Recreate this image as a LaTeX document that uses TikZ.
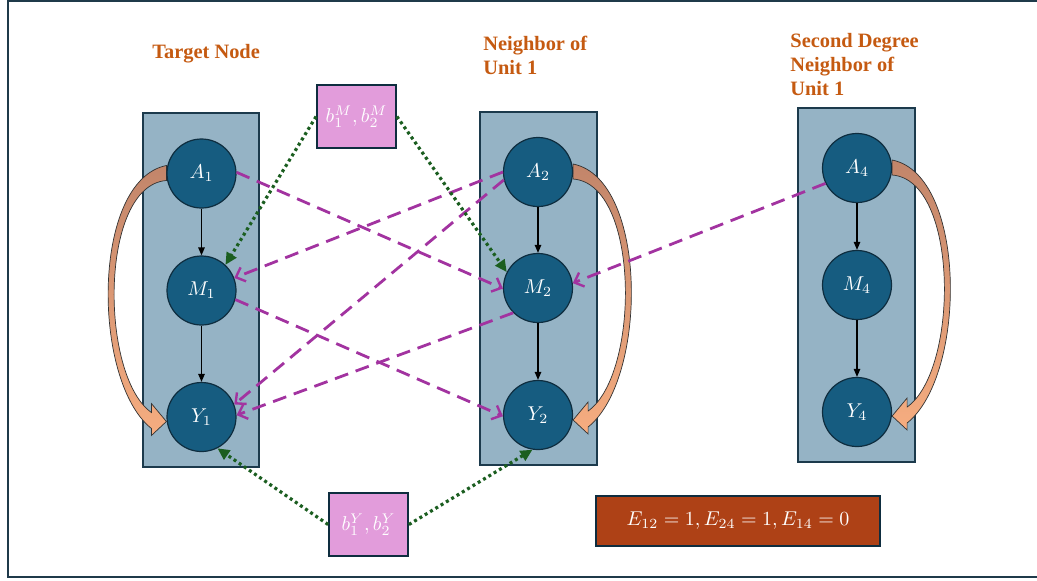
\documentclass[tikz,border=0pt]{standalone}
\usepackage{fontspec}
\newfontfamily\ttlfont{Liberation Serif}
\usetikzlibrary{arrows.meta}
\definecolor{frameC}{HTML}{1F3A4A}
\definecolor{colFill}{HTML}{95B3C5}
\definecolor{colEdge}{HTML}{1C3A4C}
\definecolor{varFill}{HTML}{165C80}
\definecolor{varEdge}{HTML}{0E2D3F}
\definecolor{ttlC}{HTML}{C55A11}
\definecolor{pinkC}{HTML}{E29CDB}
\definecolor{eC}{HTML}{AE4116}
\definecolor{magC}{HTML}{A233A0}
\definecolor{grnC}{HTML}{1B5E20}
\definecolor{fatTop}{HTML}{C2856A}
\definecolor{fatBot}{HTML}{F6AD80}
\pgfdeclarelayer{bg}
\pgfsetlayers{bg,main}
\tikzset{
  colbox/.style={draw=colEdge, line width=0.9pt, fill=colFill, inner sep=0pt},
  var/.style={circle, draw=varEdge, line width=0.6pt, fill=varFill, minimum size=34.5pt, inner sep=0pt, text=white, font=\fontsize{10}{12}\selectfont},
  bbox/.style={draw=varEdge, line width=0.9pt, fill=pinkC, minimum width=39.5pt, minimum height=31.5pt, inner sep=0pt, text=white, font=\fontsize{10}{12}\selectfont},
  ebox/.style={draw=varEdge, line width=0.9pt, fill=eC, minimum width=142pt, minimum height=25pt, inner sep=0pt, text=white, font=\fontsize{10}{12}\selectfont},
  ttl/.style={anchor=north west, inner sep=0pt, align=left, text=ttlC, font=\ttlfont\bfseries\fontsize{10.2}{11.9}\selectfont},
  causal/.style={draw=black, line width=0.7pt, -{Triangle[length=4pt,width=3.2pt]}},
  spill/.style={draw=magC, line width=1.4pt, dash pattern=on 7pt off 4pt, -{Straight Barb[length=4pt,width=7.5pt,line width=1.2pt]}},
  confound/.style={draw=grnC, line width=1.6pt, dash pattern=on 1.5pt off 1.6pt, -{Triangle[length=6pt,width=5.5pt]}},
  fatarrow/.pic={
    \path[top color=fatTop, bottom color=fatBot, draw=black!80, line width=0.35pt]
      (0,-8) .. controls (-75,7) and (-75,207) .. (-15,255)
      -- (-15,262) -- (0,248) -- (-15,230) -- (-15,239)
      .. controls (-67,202) and (-67,12) .. (0,7) -- cycle;
  }
}
\begin{document}
\begin{tikzpicture}[x=0.5pt,y=-0.5pt]
\useasboundingbox (0,0) rectangle (1037,580);
\draw[frameC, line width=1pt] (8,1) rectangle (1060,577);

% titles
\node[ttl] (t1) at (152,44) {Target Node};
\node[ttl] (t2) at (483,36) {Neighbor of\\Unit 1};
\node[ttl] (t3) at (790,33) {Second Degree\\Neighbor of\\Unit 1};

% circles
\node[var] (A1) at (201.5,173.5) {$A_1$};
\node[var] (M1) at (201.5,290.5) {$M_1$};
\node[var] (Y1) at (201.5,417) {$Y_1$};
\node[var] (A2) at (538,172) {$A_2$};
\node[var] (M2) at (538,288) {$M_2$};
\node[var] (Y2) at (538,415) {$Y_2$};
\node[var] (A4) at (857,168) {$A_4$};
\node[var] (M4) at (857,285) {$M_4$};
\node[var] (Y4) at (857,412) {$Y_4$};

\begin{pgfonlayer}{bg}
\node[colbox, minimum width=58pt, minimum height=177pt] (C1) at (201,290) {};
\node[colbox, minimum width=58.5pt, minimum height=176.5pt] (C2) at (538.5,288.5) {};
\node[colbox, minimum width=58.5pt, minimum height=177pt] (C3) at (856.5,285) {};
\pic at (A1.west) {fatarrow};
\pic[xscale=-1] at (A2.east) {fatarrow};
\pic[xscale=-1] at (A4.east) {fatarrow};
\end{pgfonlayer}

% boxes
\node[bbox] (bM) at (356.5,116.5) {$b_1^M, b_2^M$};
\node[bbox] (bY) at (368.5,524.5) {$b_1^Y, b_2^Y$};
\node[ebox] (E) at (738,521) {$E_{12}=1, E_{24}=1, E_{14}=0$};

% causal arrows
\draw[causal] (A1) -- (M1);
\draw[causal] (M1) -- (Y1);
\draw[causal] (A2) -- (M2);
\draw[causal] (M2) -- (Y2);
\draw[causal] (A4) -- (M4);
\draw[causal] (M4) -- (Y4);

% spillover arrows
\draw[spill] (A1.2) -- (M2.181);
\draw[spill] (M1.-15) -- (Y2.182);
\draw[spill] (A2.180) -- (M1.21);
\draw[spill] (A2.193) -- (Y1.21);
\draw[spill] (M2.225) -- (Y1.3);
\draw[spill] (A4.206) -- (M2.8);

% confounder arrows
\draw[confound] (bM.west) -- (M1.47);
\draw[confound] (bM.east) -- (M2.153);
\draw[confound] (bY.west) -- (Y1.-63);
\draw[confound] (bY.east) -- (Y2.-99);
\end{tikzpicture}
\end{document}
